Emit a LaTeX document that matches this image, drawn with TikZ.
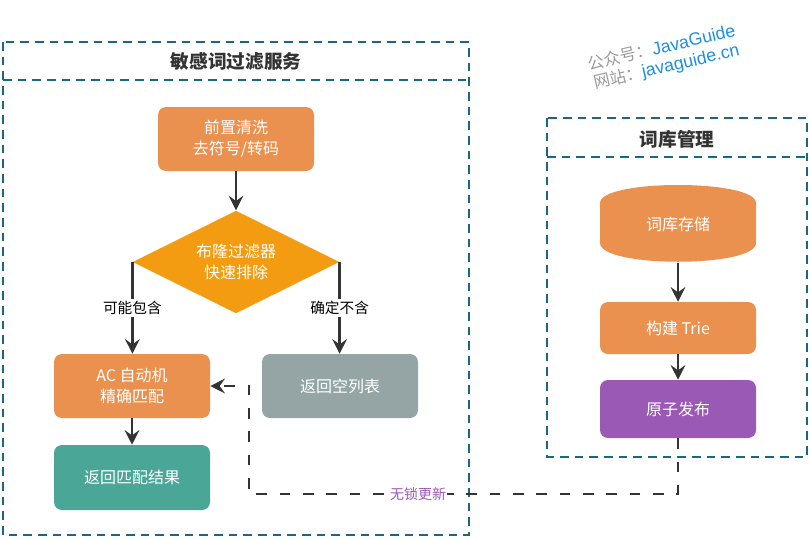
\documentclass[tikz,border=0pt]{standalone}
\usepackage{fontspec}
\setmainfont{Noto Sans CJK SC}
\newfontfamily\markfont{Liberation Sans}
\usetikzlibrary{shapes.geometric,arrows.meta}

\definecolor{boxorange}{HTML}{EA9150}
\definecolor{bloomyellow}{HTML}{F39C12}
\definecolor{emptygrey}{HTML}{95A5A6}
\definecolor{resultteal}{HTML}{4AA697}
\definecolor{publishpurple}{HTML}{9B59B6}
\definecolor{framebluegreen}{HTML}{1B6680}
\definecolor{darktext}{HTML}{333333}
\definecolor{markgrey}{HTML}{9A9A9A}
\definecolor{markblue}{HTML}{1E8FE3}

\tikzstyle{procbox} = [rectangle, rounded corners=6pt, minimum width=117pt, minimum height=48pt, text centered, align=center, text=white, inner sep=2pt, font=\fontsize{12}{16}\selectfont]
\tikzstyle{decision} = [diamond, aspect=2, minimum width=155pt, minimum height=77pt, inner sep=0pt, fill=bloomyellow, text=white, align=center, font=\fontsize{12}{16}\selectfont]
\tikzstyle{frame} = [draw=framebluegreen, line width=2pt, dash pattern=on 6.5pt off 4.5pt]
\tikzstyle{frametitle} = [text=darktext, font=\fontsize{14}{16}\selectfont\bfseries]
\tikzstyle{arrow} = [line width=2pt, draw=darktext, -{Stealth[length=11pt,width=11pt,inset=4pt]}]
\tikzstyle{dasharrow} = [arrow, dash pattern=on 8pt off 9.5pt]
\tikzstyle{branchlabel} = [fill=white, text=black, inner sep=1.5pt, font=\fontsize{11}{13}\selectfont]
\tikzstyle{watermark} = [rotate=13, anchor=west, inner sep=0pt, text=markgrey, font=\fontsize{12.3}{14}\selectfont]

\newcommand{\markurl}[1]{\textcolor{markblue}{\markfont\fontsize{13.3}{14}\selectfont #1}}

\begin{document}
\begin{tikzpicture}[x=0.75pt, y=-0.75pt]
    \useasboundingbox (0,0) rectangle (809,539);

    % filter service frame
    \draw [frame] (3,42) rectangle (469,535);
    \draw [frame] (3,80) -- (469,80);
    \node (filtertitle) [frametitle] at (236,61) {敏感词过滤服务};

    % dictionary frame
    \draw [frame] (547,118) rectangle (807,457);
    \draw [frame] (547,157) -- (807,157);
    \node (dicttitle) [frametitle] at (677,139) {词库管理};

    % watermark
    \node (markone) [watermark] at (588,64) {公众号：\markurl{JavaGuide}};
    \node (marktwo) [watermark] at (594,84) {网站：\markurl{javaguide.cn}};

    % filter flow
    \node (clean) [procbox, fill=boxorange] at (236,139) {前置清洗\\去符号/转码};
    \node (bloom) [decision] at (236,262) {布隆过滤器\\快速排除};
    \node (ac) [procbox, fill=boxorange] at (132,386) {AC 自动机\\精确匹配};
    \node (empty) [procbox, fill=emptygrey] at (340,386) {返回空列表};
    \node (result) [procbox, fill=resultteal, minimum height=48.75pt] at (132,477.5) {返回匹配结果};

    % dictionary flow
    \fill [boxorange] (600,203) .. controls (600,179) and (756,179) .. (756,203) -- (756,243)
        .. controls (756,268) and (600,268) .. (600,243) -- cycle;
    \node (store) [procbox, minimum height=58.5pt] at (678,224) {词库存储};
    \node (trie) [procbox, fill=boxorange, minimum height=39pt] at (678,328) {构建 Trie};
    \node (publish) [procbox, fill=publishpurple, minimum height=43.5pt] at (678,409) {原子发布};

    \draw [arrow] (clean) -- (bloom);
    \draw [arrow] (bloom.west) -- (bloom.west |- ac.north) node[midway, branchlabel] {可能包含};
    \draw [arrow] (bloom.east) -- (bloom.east |- empty.north) node[midway, branchlabel] {确定不含};
    \draw [arrow] (ac) -- (result);
    \draw [arrow] (store) -- (trie);
    \draw [arrow] (trie) -- (publish);

    \coordinate (turn) at (249,494);
    \draw [dasharrow] (publish.south) |- (turn)
        node[pos=0.803, fill=white, text=publishpurple, inner sep=1pt, font=\fontsize{10.5}{12}\selectfont] {无锁更新}
        |- (ac.east);

\end{tikzpicture}
\end{document}
